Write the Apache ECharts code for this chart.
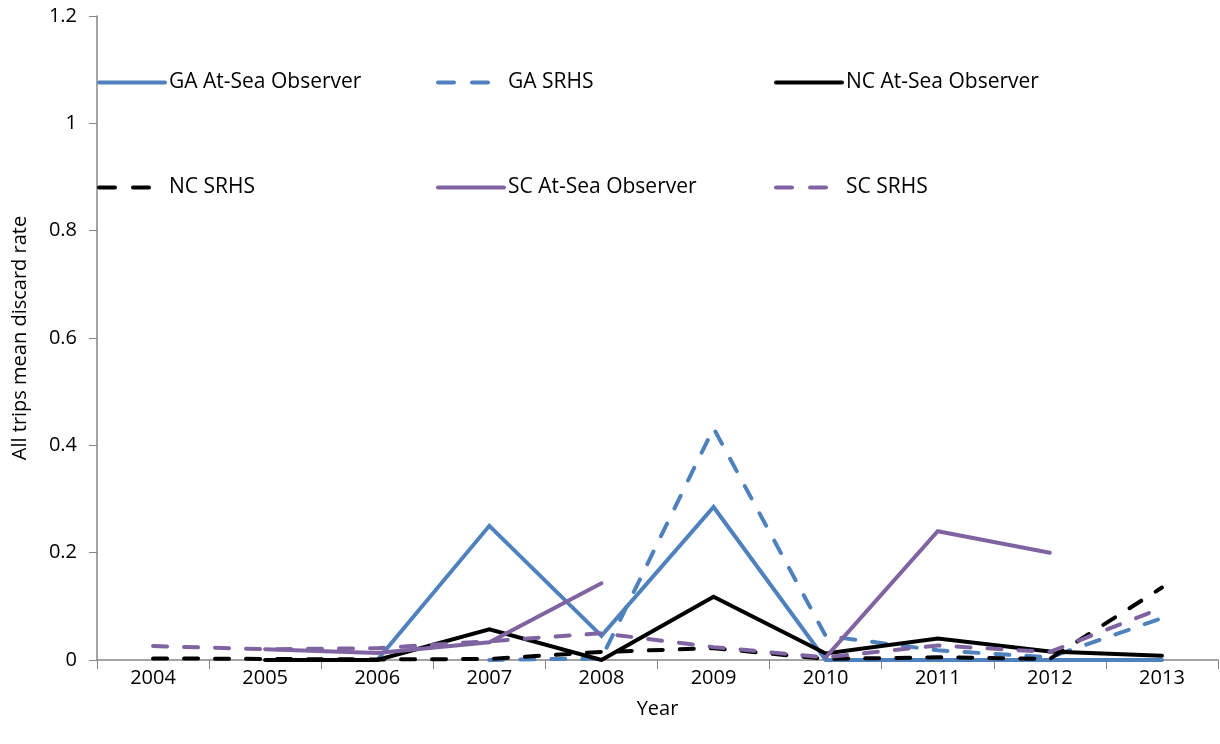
<!DOCTYPE html>
<html><head><meta charset="utf-8">
<script src="https://cdn.jsdelivr.net/npm/echarts@6/dist/echarts.min.js"></script>
<style>html,body{margin:0;padding:0;background:#fff}#c{width:1220px;height:744px}</style>
</head><body><div id="c"></div>
<script>
const years = ['2004','2005','2006','2007','2008','2009','2010','2011','2012','2013'];
const gaObserver = [null, null, 0, 0.25, 0.045, 0.285, 0, 0, 0, 0];
const gaSRHS     = [null, null, null, 0, 0.003, 0.432, 0.045, 0.018, 0.005, 0.078];
const ncObserver = [null, 0, 0, 0.057, 0, 0.118, 0.012, 0.04, 0.016, 0.008];
const ncSRHS     = [0.003, 0.002, 0.001, 0.002, 0.015, 0.022, 0.002, 0.005, 0.002, 0.135];
const scObserver = [null, 0.02, 0.013, 0.033, 0.143, null, 0.005, 0.24, 0.2, null];
const scSRHS     = [0.026, 0.02, 0.022, 0.035, 0.05, 0.024, 0.005, 0.027, 0.015, 0.097];
const yTicks = [0, 0.2, 0.4, 0.6, 0.8, 1, 1.2];

const BLUE = '#4F81BD', PURPLE = '#8064A2', BLACK = '#000000';
const FONT = 'Open Sans';
const dash = [14, 17];
const legendDash = [16, 18];

function mk(name, data, color, dashed) {
  return {
    name, type: 'line', data, symbol: 'none', connectNulls: false,
    lineStyle: { color, width: 4, type: dashed ? dash : 'solid', cap: 'round', join: 'miter' },
    itemStyle: { color },
    emphasis: { disabled: true }
  };
}
const series = [
  mk('GA At-Sea Observer', gaObserver, BLUE, false),
  mk('GA SRHS', gaSRHS, BLUE, true),
  mk('NC At-Sea Observer', ncObserver, BLACK, false),
  mk('NC SRHS', ncSRHS, BLACK, true),
  mk('SC At-Sea Observer', scObserver, PURPLE, false),
  mk('SC SRHS', scSRHS, PURPLE, true)
];
const legPos = [[97, 72], [436, 72], [774, 72], [97, 177], [436, 177], [774, 177]];
const legends = series.map((s, i) => ({
  data: [s.name], left: legPos[i][0], top: legPos[i][1], padding: 0,
  itemWidth: 66, itemHeight: 22, itemGap: 0,
  itemStyle: { color: 'rgba(0,0,0,0)', borderColor: 'rgba(0,0,0,0)', borderWidth: 0, opacity: 0 },
  lineStyle: { width: 4, type: s.lineStyle.type === 'solid' ? 'solid' : legendDash, color: s.lineStyle.color, cap: 'round' },
  textStyle: { fontFamily: FONT, fontSize: 21, color: '#000', padding: [0, 0, 0, -1] },
  selectedMode: false
}));

const chart = echarts.init(document.getElementById('c'), null, { renderer: 'canvas' });
chart.setOption({
  animation: false,
  backgroundColor: '#fff',
  legend: legends,
  grid: { left: 97, right: 2, top: 16, bottom: 84, containLabel: false },
  xAxis: {
    type: 'category', data: years, boundaryGap: true,
    name: 'Year', nameLocation: 'middle', nameGap: 39,
    nameTextStyle: { fontFamily: FONT, fontSize: 20, color: '#000' },
    axisLine: { lineStyle: { color: '#868686', width: 1.5 } },
    axisTick: { show: true, length: 9, alignWithLabel: false, lineStyle: { color: '#868686' } },
    axisLabel: { fontFamily: FONT, fontSize: 20, color: '#000', margin: 8 }
  },
  yAxis: {
    type: 'value', min: 0, max: 1.2, interval: 0.2,
    name: 'All trips mean discard rate', nameLocation: 'middle', nameGap: 67, nameRotate: 90,
    nameTextStyle: { fontFamily: FONT, fontSize: 20, color: '#000' },
    axisLine: { show: true, lineStyle: { color: '#868686', width: 1.5 } },
    axisTick: { show: true, length: 8, inside: false, lineStyle: { color: '#868686' } },
    splitLine: { show: false },
    axisLabel: { fontFamily: FONT, fontSize: 20, color: '#000', margin: 20,
      formatter: v => { const t = yTicks.find(k => Math.abs(k - v) < 1e-9); return String(t !== undefined ? t : v); } }
  },
  series
});
</script></body></html>
